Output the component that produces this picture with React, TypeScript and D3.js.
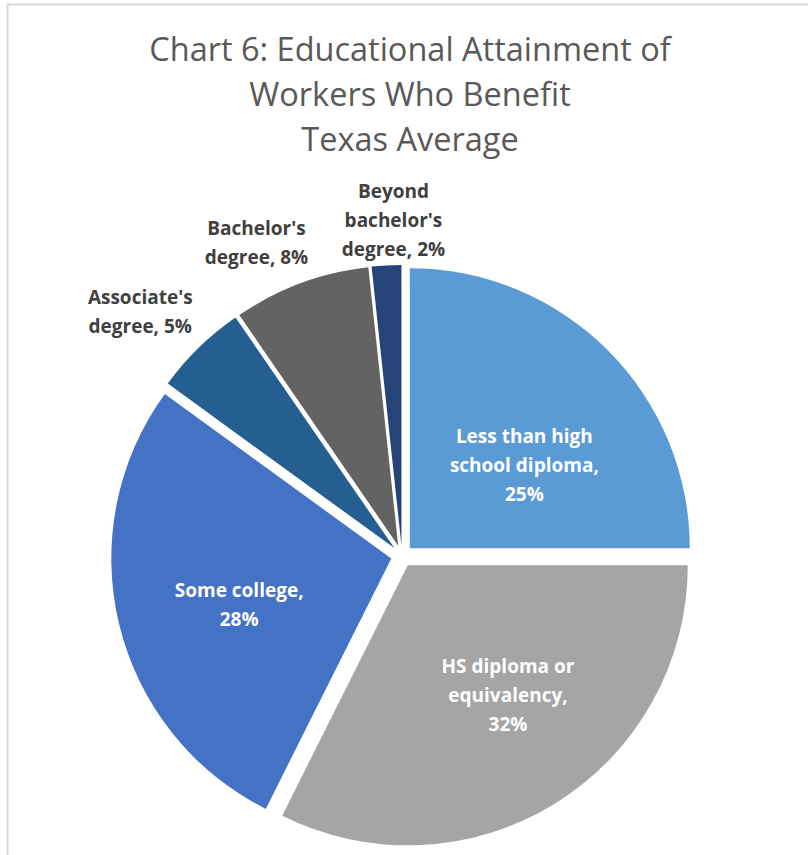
import React, { useEffect } from "react";
import * as d3 from "d3";

const categories = [
  "Less than high school diploma",
  "HS diploma or equivalency",
  "Some college",
  "Associate's degree",
  "Bachelor's degree",
  "Beyond bachelor's degree",
];
const values = [25.0, 32.4, 27.6, 5.4, 7.9, 1.7];
const labelText = [
  ["Less than high", "school diploma,"],
  ["HS diploma or", "equivalency,"],
  ["Some college,"],
  ["Associate's", "degree,"],
  ["Bachelor's", "degree,"],
  ["Beyond", "bachelor's", "degree,"],
];
const colors = ["#5B9BD5", "#A5A5A5", "#4472C4", "#255E91", "#636363", "#264478"];
const insideLabel = [true, true, true, false, false, false];
const titleLines = ["Chart 6: Educational Attainment of", "Workers Who Benefit", "Texas Average"];

const W = 808;
const H = 855;
const cx = 402;
const cy = 556;
const R = 280;
const explode = 11;
const lineH = 29;
const labelFont = "'Open Sans', 'Noto Sans', sans-serif";

// label placement tuning: angle offset from slice bisector (deg) and distance from pie centre
const labelAngleAdj = [8.6, -5.6, -3, -2.7, -4.6, 1.6];
const labelRadius = [152, 175, 170, 358, 345, 336];

function buildLines(i: number): string[] {
  const pct = Math.round(values[i]) + "%";
  const base = labelText[i].slice();
  if (insideLabel[i]) {
    return [...base, pct];
  }
  const last = base.pop() as string;
  return [...base, last + " " + pct];
}

export default function App() {
  useEffect(() => {
    document.body.style.margin = "0";
  }, []);

  const pie = d3
    .pie<number>()
    .sort(null)
    .value((d) => d)
    .startAngle(0)
    .endAngle(2 * Math.PI);
  const arcs = pie(values);
  const arc = d3.arc<d3.PieArcDatum<number>>().innerRadius(0).outerRadius(R);

  return (
    <svg width={W} height={H} style={{ display: "block", background: "#fff" }}>
      <rect x={7.5} y={4.5} width={W + 20} height={H + 20} fill="#fff" stroke="#d9d9d9" strokeWidth={2} />
      {titleLines.map((t, i) => (
        <text
          key={t}
          x={410}
          y={61 + i * 45}
          textAnchor="middle"
          fontFamily="'Open Sans', 'Noto Sans', sans-serif"
          fontSize={32.5}
          fill="#595959"
        >
          {t}
        </text>
      ))}
      <g transform={`translate(${cx},${cy})`}>
        {arcs.map((a, i) => {
          const mid = (a.startAngle + a.endAngle) / 2;
          const ox = Math.sin(mid) * explode;
          const oy = -Math.cos(mid) * explode;
          return (
            <path
              key={categories[i]}
              d={arc(a) as string}
              transform={`translate(${ox},${oy})`}
              fill={colors[i]}
            />
          );
        })}
        {arcs.map((a, i) => {
          const mid = (a.startAngle + a.endAngle) / 2;
          const lines = buildLines(i);
          const ang = mid + (labelAngleAdj[i] * Math.PI) / 180;
          const x0 = Math.sin(ang) * labelRadius[i];
          const y0 = -Math.cos(ang) * labelRadius[i];
          const startY = y0 - ((lines.length - 1) * lineH) / 2;
          return (
            <text
              key={"lbl" + i}
              textAnchor="middle"
              fontFamily={labelFont}
              fontWeight="bold"
              fontSize={19}
              fill={insideLabel[i] ? "#ffffff" : "#404040"}
            >
              {lines.map((l, j) => (
                <tspan key={j} x={x0} y={startY + j * lineH} dy="0.35em">
                  {l}
                </tspan>
              ))}
            </text>
          );
        })}
      </g>
    </svg>
  );
}
